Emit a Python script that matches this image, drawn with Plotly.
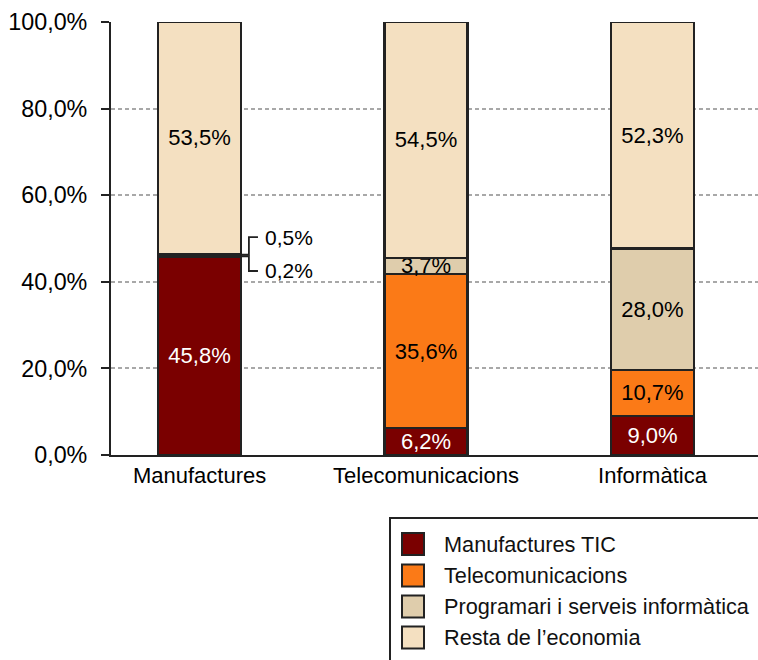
import plotly.graph_objects as go

# Share of each TIC branch within every sector (percent)
categories = ["Manufactures", "Telecomunicacions", "Informàtica"]
series_names = [
    "Manufactures TIC",
    "Telecomunicacions",
    "Programari i serveis informàtica",
    "Resta de l\u2019economia",
]
manufactures_tic = [45.8, 6.2, 9.0]
telecomunicacions = [0.2, 35.6, 10.7]
programari = [0.5, 3.7, 28.0]
resta_economia = [53.5, 54.5, 52.3]
series_values = [manufactures_tic, telecomunicacions, programari, resta_economia]

y_tick_vals = [0, 20, 40, 60, 80, 100]
y_tick_text = ["0,0%", "20,0%", "40,0%", "60,0%", "80,0%", "100,0%"]

colors = ["#7A0000", "#FB7A17", "#DFCDAC", "#F4E0C1"]
text_colors = ["white", "black", "black", "black"]
FONT = "Liberation Sans, Arial, sans-serif"
OUTLINE = "#222222"

# plot-area geometry in pixels
W_FIG, H_FIG = 758, 660
M_L, M_T, M_R, M_B = 111, 22, 0, 205
PW = W_FIG - M_L - M_R
PH = H_FIG - M_T - M_B
BAR_W = 0.366
X_RANGE = [-0.391, 2.466]


def fmt(v):
    return f"{v:.1f}".replace(".", ",") + "%"


def px_x(px):
    return (px - M_L) / PW


def px_y(py):
    return (H_FIG - M_B - py) / PH


fig = go.Figure()
for name, vals, col, tcol in zip(series_names, series_values, colors, text_colors):
    # very thin segments get their labels outside the bar
    labels = [fmt(v) if v >= 2 else "" for v in vals]
    fig.add_trace(go.Bar(
        x=categories, y=vals, name=name, width=BAR_W,
        marker=dict(color=col, line=dict(color=OUTLINE, width=2.2)),
        text=labels, textposition="inside", insidetextanchor="middle",
        textfont=dict(family=FONT, size=22, color=tcol),
        constraintext="none", hoverinfo="skip", showlegend=False,
    ))

# bracket call-outs for the two thin segments of the first bar
x_edge = BAR_W / 2
dx1, dx2 = 0.035, 0.075
tan_mid = manufactures_tic[0] + telecomunicacions[0] + programari[0] / 2
orange_mid = manufactures_tic[0] + telecomunicacions[0] / 2
label_up, label_down = 50.3, 42.5
for y_start, y_label, val in [(tan_mid, label_up, programari[0]),
                              (orange_mid, label_down, telecomunicacions[0])]:
    fig.add_shape(
        type="path", xref="x", yref="y",
        path=(f"M {x_edge},{y_start} L {x_edge + dx1},{y_start} "
              f"L {x_edge + dx1},{y_label} L {x_edge + dx2},{y_label}"),
        line=dict(color=OUTLINE, width=1.8),
    )
    fig.add_annotation(
        x=x_edge + dx2 + 0.02, y=y_label, xref="x", yref="y",
        text=fmt(val), showarrow=False, xanchor="left", yanchor="middle",
        font=dict(family=FONT, size=21, color="black"),
    )

# legend box drawn by hand (large square swatches)
fig.add_shape(type="rect", xref="paper", yref="paper",
              x0=px_x(390), x1=px_x(780), y0=px_y(518), y1=px_y(700),
              line=dict(color=OUTLINE, width=2), fillcolor="white", layer="below")
row_centers = [544, 575.5, 606.5, 637.5]
for name, col, cy in zip(series_names, colors, row_centers):
    fig.add_shape(type="rect", xref="paper", yref="paper",
                  x0=px_x(402), x1=px_x(424), y0=px_y(cy + 11), y1=px_y(cy - 11),
                  line=dict(color=OUTLINE, width=2), fillcolor=col)
    fig.add_annotation(x=px_x(442), y=px_y(cy), xref="paper", yref="paper",
                       text=name, showarrow=False, xanchor="left", yanchor="middle",
                       font=dict(family=FONT, size=21.7, color="#111111"))

fig.update_layout(
    width=W_FIG, height=H_FIG,
    margin=dict(l=M_L, r=M_R, t=M_T, b=M_B, pad=0),
    barmode="stack",
    plot_bgcolor="white", paper_bgcolor="white",
    font=dict(family=FONT, color="black"),
    uniformtext=dict(minsize=22, mode="show"),
    xaxis=dict(
        range=X_RANGE, showgrid=False, zeroline=False,
        showline=True, linecolor=OUTLINE, linewidth=2,
        ticks="", tickfont=dict(family=FONT, size=22, color="black"),
    ),
    yaxis=dict(
        range=[0, 100], tickvals=y_tick_vals, ticktext=y_tick_text,
        showgrid=True, gridcolor="#a8a8a8", gridwidth=1.5, griddash="4px,3px",
        zeroline=False, showline=True, linecolor=OUTLINE, linewidth=2,
        ticks="outside", ticklen=8, tickwidth=2, tickcolor=OUTLINE,
        tickfont=dict(family=FONT, size=23.3, color="black"),
        ticklabelstandoff=9,
    ),
)

fig.write_html("out.html")
